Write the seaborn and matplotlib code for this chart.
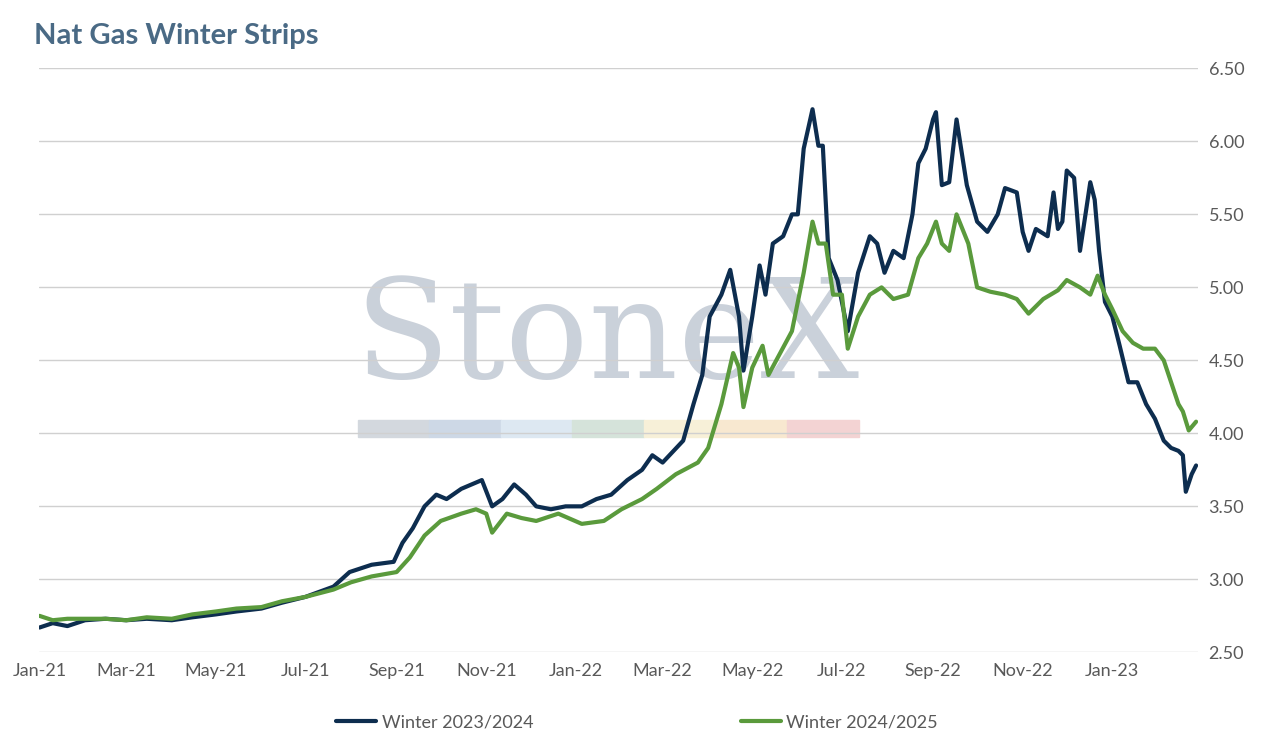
import matplotlib
matplotlib.use("Agg")
import matplotlib.pyplot as plt
import matplotlib.dates as mdates
import seaborn as sns
import pandas as pd
from matplotlib.patches import Rectangle

navy_dates = ["2021-01-01","2021-01-10","2021-01-20","2021-02-01","2021-02-15","2021-03-01","2021-03-15","2021-04-01","2021-04-15","2021-05-01","2021-05-15","2021-06-01","2021-06-15","2021-07-01","2021-07-20","2021-07-31","2021-08-15","2021-08-30","2021-09-05","2021-09-12","2021-09-20","2021-09-28","2021-10-05","2021-10-15","2021-10-22","2021-10-29","2021-11-05","2021-11-12","2021-11-20","2021-11-28","2021-12-05","2021-12-15","2021-12-25","2022-01-05","2022-01-15","2022-01-25","2022-02-05","2022-02-15","2022-02-22","2022-03-01","2022-03-15","2022-03-22","2022-03-28","2022-04-02","2022-04-10","2022-04-16","2022-04-22","2022-04-25","2022-05-01","2022-05-06","2022-05-10","2022-05-15","2022-05-22","2022-05-28","2022-06-01","2022-06-05","2022-06-11","2022-06-15","2022-06-18","2022-06-22","2022-06-28","2022-07-05","2022-07-12","2022-07-20","2022-07-25","2022-07-30","2022-08-05","2022-08-12","2022-08-18","2022-08-22","2022-08-27","2022-09-01","2022-09-03","2022-09-07","2022-09-12","2022-09-17","2022-09-24","2022-10-01","2022-10-08","2022-10-15","2022-10-20","2022-10-28","2022-11-01","2022-11-05","2022-11-10","2022-11-18","2022-11-22","2022-11-25","2022-11-28","2022-12-01","2022-12-06","2022-12-10","2022-12-13","2022-12-17","2022-12-20","2022-12-23","2022-12-27","2023-01-01","2023-01-06","2023-01-12","2023-01-18","2023-01-24","2023-01-30","2023-02-05","2023-02-10","2023-02-15","2023-02-18","2023-02-20","2023-02-24","2023-02-27"]
navy_vals = [2.67,2.70,2.68,2.72,2.73,2.72,2.73,2.72,2.74,2.76,2.78,2.80,2.84,2.88,2.95,3.05,3.10,3.12,3.25,3.35,3.50,3.58,3.55,3.62,3.65,3.68,3.50,3.55,3.65,3.58,3.50,3.48,3.50,3.50,3.55,3.58,3.68,3.75,3.85,3.80,3.95,4.20,4.40,4.80,4.95,5.12,4.80,4.43,4.80,5.15,4.95,5.30,5.35,5.50,5.50,5.95,6.22,5.97,5.97,5.20,5.05,4.70,5.10,5.35,5.30,5.10,5.25,5.20,5.50,5.85,5.95,6.15,6.20,5.70,5.72,6.15,5.70,5.45,5.38,5.50,5.68,5.65,5.38,5.25,5.40,5.35,5.65,5.40,5.45,5.80,5.75,5.25,5.45,5.72,5.60,5.25,4.90,4.80,4.60,4.35,4.35,4.20,4.10,3.95,3.90,3.88,3.85,3.60,3.72,3.78]

green_dates = ["2021-01-01","2021-01-10","2021-01-20","2021-02-01","2021-02-15","2021-03-01","2021-03-15","2021-04-01","2021-04-15","2021-05-01","2021-05-15","2021-06-01","2021-06-15","2021-07-01","2021-07-20","2021-08-01","2021-08-15","2021-09-01","2021-09-10","2021-09-20","2021-10-01","2021-10-15","2021-10-25","2021-11-01","2021-11-05","2021-11-15","2021-11-25","2021-12-05","2021-12-20","2022-01-05","2022-01-20","2022-02-01","2022-02-15","2022-02-25","2022-03-10","2022-03-25","2022-04-01","2022-04-10","2022-04-18","2022-04-22","2022-04-25","2022-05-01","2022-05-08","2022-05-12","2022-05-20","2022-05-28","2022-06-05","2022-06-11","2022-06-15","2022-06-20","2022-06-25","2022-07-01","2022-07-05","2022-07-12","2022-07-20","2022-07-28","2022-08-05","2022-08-15","2022-08-22","2022-08-28","2022-09-03","2022-09-07","2022-09-12","2022-09-17","2022-09-25","2022-10-01","2022-10-10","2022-10-20","2022-10-28","2022-11-05","2022-11-15","2022-11-25","2022-12-01","2022-12-10","2022-12-17","2022-12-22","2022-12-27","2023-01-01","2023-01-08","2023-01-15","2023-01-22","2023-01-30","2023-02-05","2023-02-10","2023-02-15","2023-02-18","2023-02-22","2023-02-27"]
green_vals = [2.75,2.72,2.73,2.73,2.73,2.72,2.74,2.73,2.76,2.78,2.80,2.81,2.85,2.88,2.93,2.98,3.02,3.05,3.15,3.30,3.40,3.45,3.48,3.45,3.32,3.45,3.42,3.40,3.45,3.38,3.40,3.48,3.55,3.62,3.72,3.80,3.90,4.20,4.55,4.45,4.18,4.45,4.60,4.40,4.55,4.70,5.10,5.45,5.30,5.30,4.95,4.95,4.58,4.80,4.95,5.00,4.92,4.95,5.20,5.30,5.45,5.30,5.25,5.50,5.30,5.00,4.97,4.95,4.92,4.82,4.92,4.98,5.05,5.00,4.95,5.08,4.95,4.85,4.70,4.62,4.58,4.58,4.50,4.35,4.20,4.15,4.02,4.08]

y_ticks = [2.50,3.00,3.50,4.00,4.50,5.00,5.50,6.00,6.50]
series_names = ["Winter 2023/2024", "Winter 2024/2025"]

df = pd.concat([
    pd.DataFrame({"date": pd.to_datetime(navy_dates), "value": navy_vals, "series": series_names[0]}),
    pd.DataFrame({"date": pd.to_datetime(green_dates), "value": green_vals, "series": series_names[1]}),
])

sns.set_theme(style="white")
plt.rcParams['font.family'] = ['Lato', 'DejaVu Sans']

fig = plt.figure(figsize=(12.74, 7.43), dpi=100)
ax = fig.add_axes([0.031, 0.122, 0.909, 0.786])

# watermark (in axes coords, beneath lines)
ax.text(0.49, 0.535, "StoneX", transform=ax.transAxes, ha="center", va="center",
        fontsize=100, family="DejaVu Serif", color="#c5ccd6",
        alpha=0.9, zorder=0)
cols = ["#d3d8de", "#cdd8e6", "#dde8f2", "#d5e3da", "#f7f0d8", "#f8e8d0", "#f3d3d3"]
x0, w = (358 - 40) / 1158, (859 - 358) / 1158 / 7
for i, c in enumerate(cols):
    ax.add_patch(Rectangle((x0 + i * w, (652 - 437) / 584), w, 17 / 584,
                           transform=ax.transAxes, color=c, zorder=0.5))

sns.lineplot(data=df, x="date", y="value", hue="series",
             palette={series_names[0]: "#0d2d4f", series_names[1]: "#5a9a3c"},
             linewidth=3, ax=ax, legend=False, zorder=3)

ax.set_ylim(2.5, 6.5)
ax.set_yticks(y_ticks)
ax.set_yticklabels([f"{v:.2f}" for v in y_ticks])
ax.yaxis.tick_right()
ax.grid(axis="y", color="#d0d0d0", linewidth=1, zorder=0)
ax.set_axisbelow(True)
ax.set_xlim(pd.Timestamp("2021-01-01"), pd.Timestamp("2023-02-28"))
ax.xaxis.set_major_locator(mdates.MonthLocator(bymonth=[1,3,5,7,9,11]))
ax.xaxis.set_major_formatter(mdates.DateFormatter("%b-%y"))
ax.tick_params(axis="both", labelsize=13, colors="#595959", length=0, pad=8)
ax.set_xlabel("")
ax.set_ylabel("")
for s in ax.spines.values():
    s.set_visible(False)

fig.text(0.027, 0.951, "Nat Gas Winter Strips", fontsize=21, fontweight="bold",
         color="#4a6a85", va="center")

from matplotlib.lines import Line2D
h = [Line2D([], [], color="#0d2d4f", lw=3), Line2D([], [], color="#5a9a3c", lw=3)]
fig.legend(h, series_names, loc="center", bbox_to_anchor=(0.5, 0.028), ncol=2,
           frameon=False, fontsize=13, handlelength=2.2, columnspacing=11.5,
           handletextpad=0.3, labelcolor="#595959")

fig.savefig("out.png", dpi=100)
